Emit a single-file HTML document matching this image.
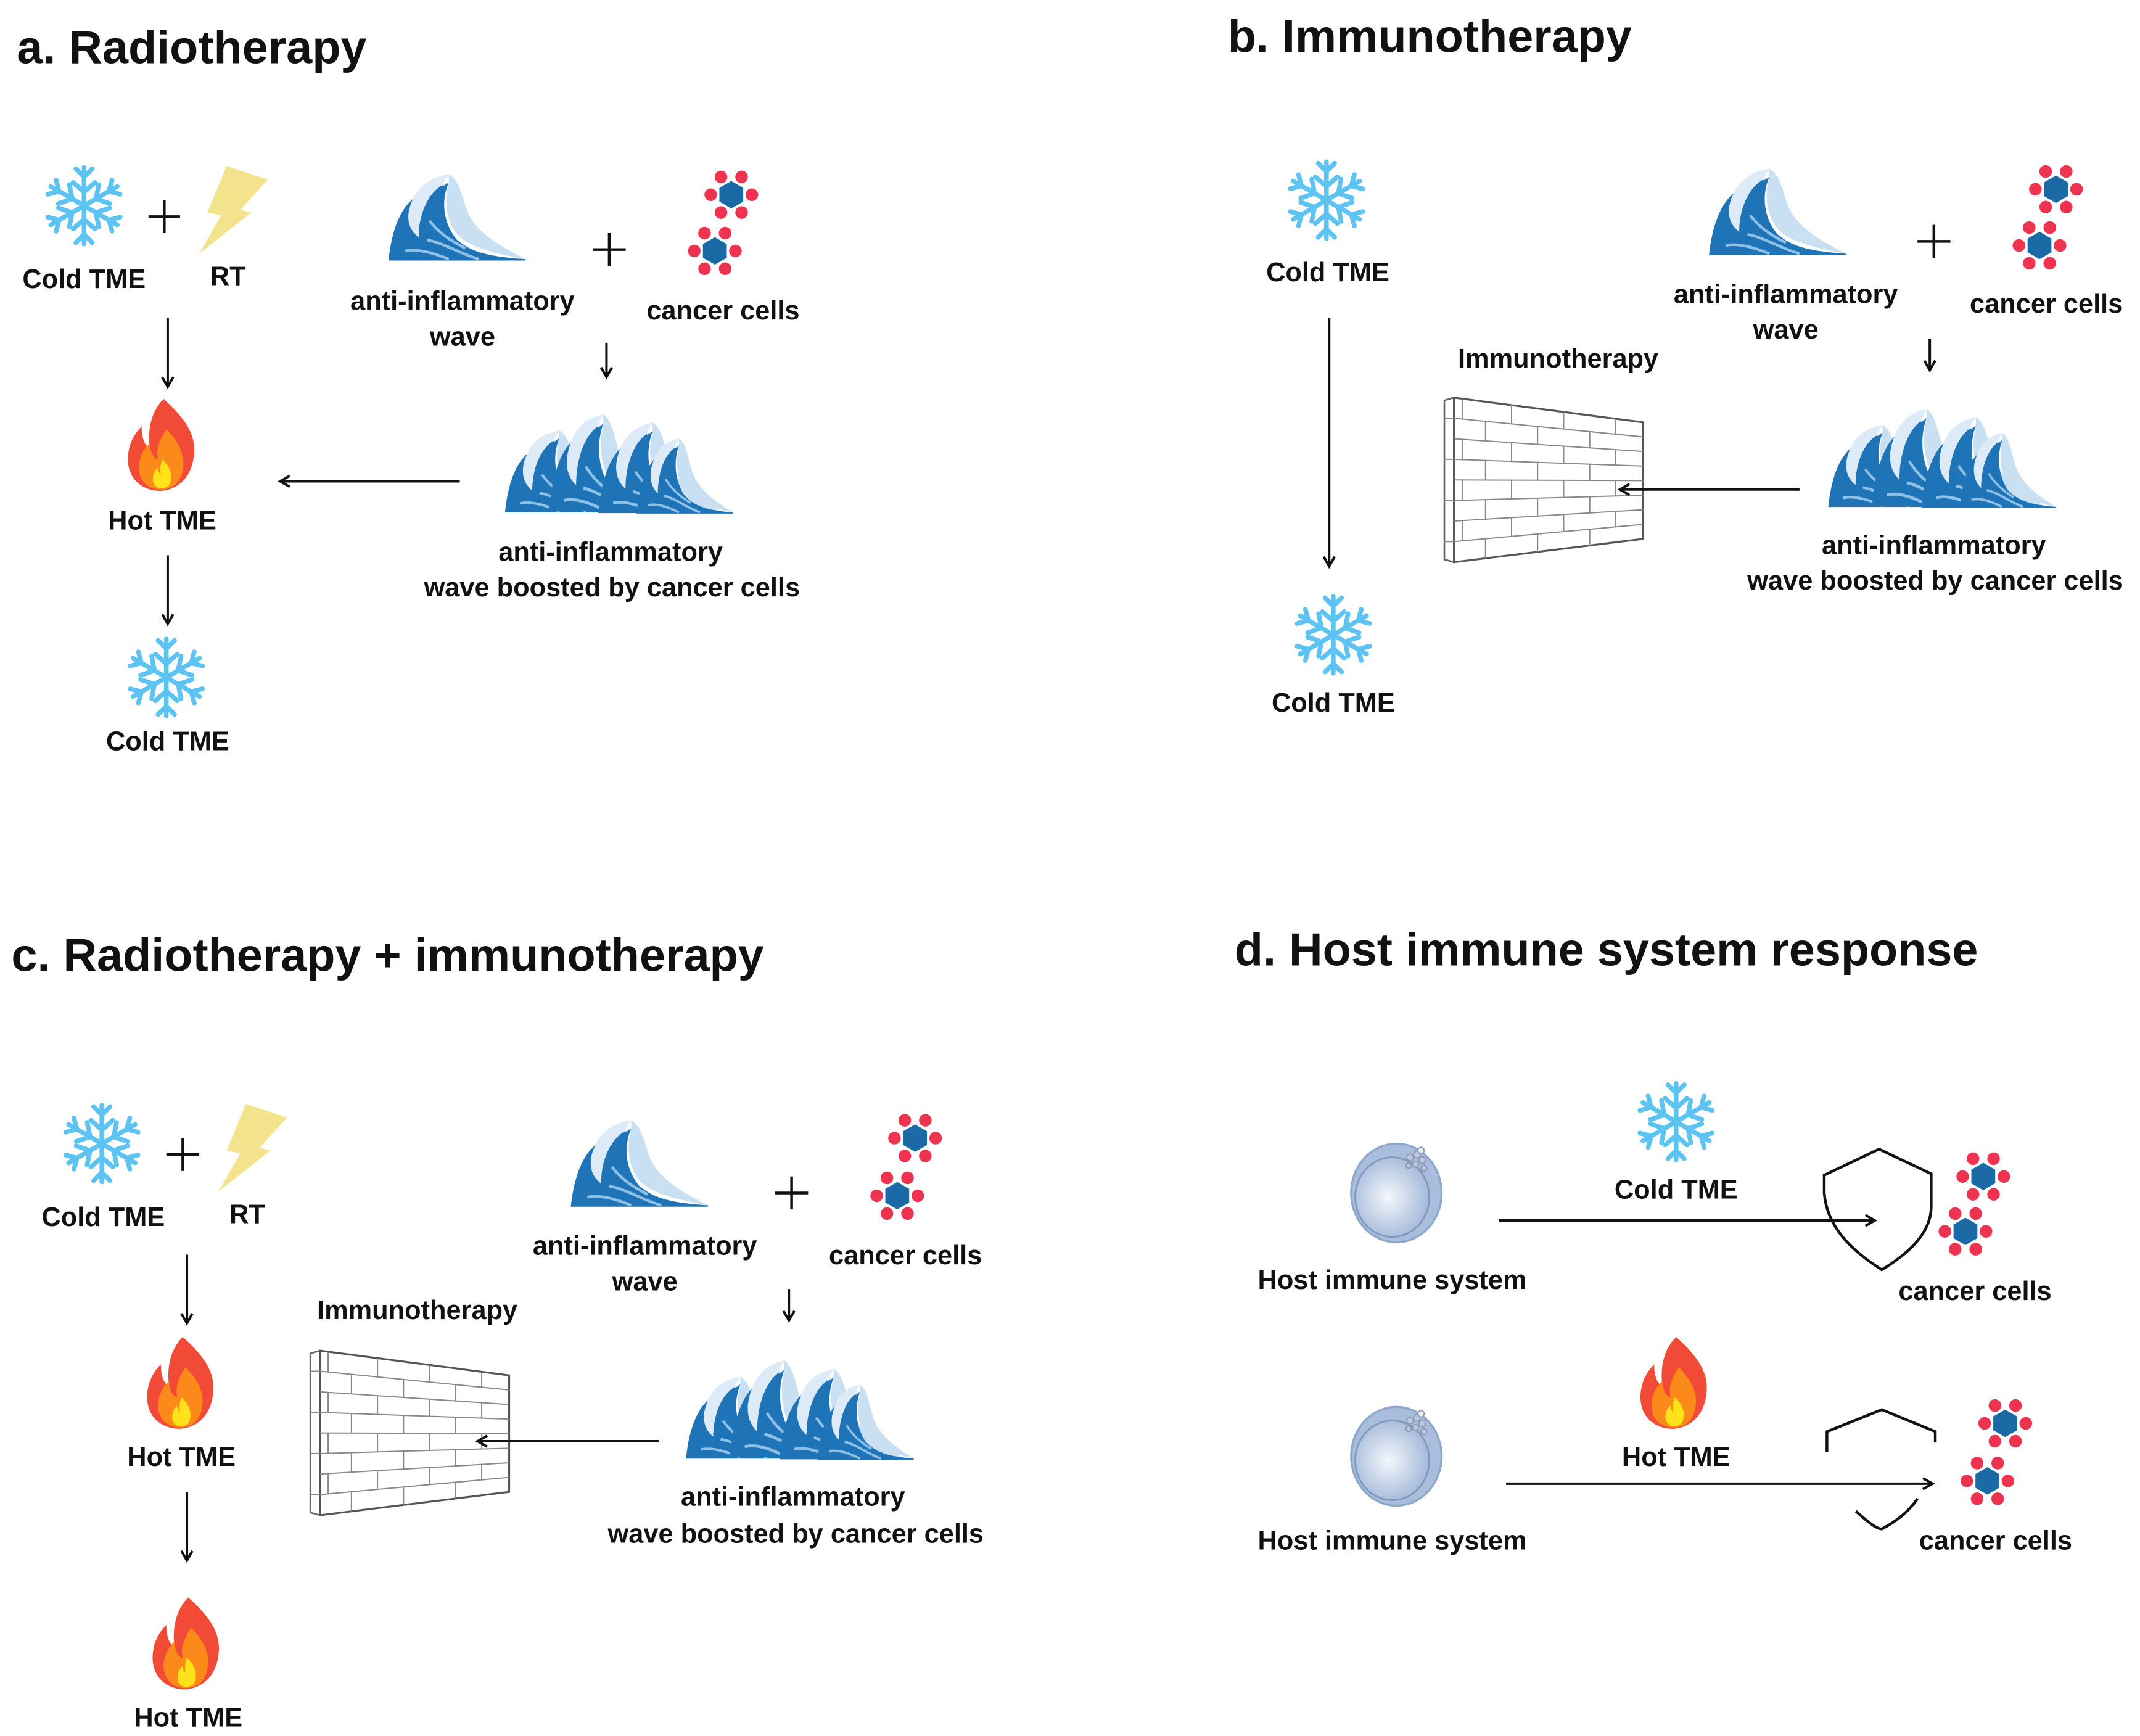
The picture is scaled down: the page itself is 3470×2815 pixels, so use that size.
<!DOCTYPE html>
<html><head><meta charset="utf-8">
<style>
html,body{margin:0;padding:0;background:#fff;}
svg{display:block;}
text{font-family:"Liberation Sans",sans-serif;font-weight:bold;fill:#111;}
.t{font-size:34px;}
.l{font-size:19.5px;text-anchor:middle;}
</style></head>
<body>
<svg width="3470" height="2815" viewBox="0 0 1560 1266" xmlns="http://www.w3.org/2000/svg">
<defs>
  <marker id="ah" markerWidth="10" markerHeight="10" refX="8" refY="5" orient="auto" markerUnits="userSpaceOnUse">
    <path d="M1,1 L8,5 L1,9" fill="none" stroke="#111" stroke-width="1.8"/>
  </marker>
  <g id="snow" stroke="#5cc3f2" stroke-width="3.4" stroke-linecap="round" fill="none">
    <g id="arm"><line x1="0" y1="0" x2="0" y2="-28"/><polyline points="-6,-27 0,-21 6,-27"/><polyline points="-8,-17 0,-10 8,-17"/></g>
    <use href="#arm" transform="rotate(60)"/><use href="#arm" transform="rotate(120)"/>
    <use href="#arm" transform="rotate(180)"/><use href="#arm" transform="rotate(240)"/><use href="#arm" transform="rotate(300)"/>
  </g>
  <g id="cell">
    <g fill="#ee3350">
      <circle cx="0" cy="-15" r="4.6" transform="rotate(30)"/><circle cx="0" cy="-15" r="4.6" transform="rotate(90)"/>
      <circle cx="0" cy="-15" r="4.6" transform="rotate(150)"/><circle cx="0" cy="-15" r="4.6" transform="rotate(210)"/>
      <circle cx="0" cy="-15" r="4.6" transform="rotate(270)"/><circle cx="0" cy="-15" r="4.6" transform="rotate(330)"/>
    </g>
    <polygon points="0,-10 8.7,-5 8.7,5 0,10 -8.7,5 -8.7,-5" fill="#1b6aa5"/>
    <circle r="8.5" fill="#1b6aa5"/>
  </g>
  <g id="bolt"><polygon points="20,-32 50,-22 30,0 38,2 0,32 16,4 6,2" fill="#f3e38c" transform="translate(-25,0)"/></g>
  <g id="flame">
    <path d="M2,-34 C20,-18 26,-6 24,8 C22,24 12,32 0,33 C-14,33 -24,24 -24,10 C-24,0 -20,-8 -14,-14 C-14,-6 -12,0 -8,2 C-10,-14 -6,-26 2,-34 Z" fill="#f14a36"/>
    <path d="M4,-12 C14,-2 18,8 16,18 C14,28 8,32 0,32 C-10,32 -16,25 -16,16 C-16,8 -12,2 -8,-2 C-8,6 -4,10 -2,10 C-4,2 0,-6 4,-12 Z" fill="#fb8a1b"/>
    <path d="M1,10 C8,16 9,24 6,29 C3,32 -3,32 -5,28 C-7,24 -5,18 -2,16 C-2,20 0,21 0,21 C-1,17 0,13 1,10 Z" fill="#ffe21a"/>
  </g>
  <g id="wave">
    <path d="M0,65 C2,45 8,28 18,20 C12,32 14,42 22,48 C22,30 30,12 44,8 C38,22 40,38 50,50 C60,58 70,62 100,64 L100,65 Z" fill="#1f74b8"/>
    <path d="M18,20 C22,10 32,4 44,2 C40,8 36,14 44,8 C30,12 22,30 22,48 C14,42 12,32 18,20 Z" fill="#dcebf7"/>
    <path d="M44,2 C52,6 54,20 58,30 C64,44 80,54 100,64 C78,60 62,56 52,48 C42,38 40,22 44,8 Z" fill="#c9e0f3"/>
    <path d="M28,50 C40,52 52,60 66,64 M12,58 C22,56 34,60 44,64 M30,36 C36,44 44,50 56,56" stroke="#8fc1e6" stroke-width="2" fill="none"/>
  </g>
  <g id="bigwave">
    <use href="#wave" transform="translate(0,12) scale(0.9,0.95)"/>
    <use href="#wave" transform="translate(32,0) scale(0.9,1.12)"/>
    <use href="#wave" transform="translate(68,6) scale(0.9,1.05)"/>
    <use href="#wave" transform="translate(96,18) scale(0.7,0.87)"/>
  </g>
  <g id="wall">
    <polygon points="0,2 7,0 7,120 0,118" fill="#fff" stroke="#666" stroke-width="1.2"/>
    <polygon points="7,0 145,18 145,103 7,120" fill="#fff" stroke="#555" stroke-width="1.4"/>
    <g id="bricks" stroke="#888" stroke-width="0.9" fill="none"></g>
  </g>
  <g id="immune">
    <radialGradient id="ig" cx="0.45" cy="0.5" r="0.6"><stop offset="0" stop-color="#f4f7fc"/><stop offset="1" stop-color="#9cb3d6"/></radialGradient>
    <ellipse rx="33" ry="36" fill="#a9bedd" stroke="#8ea6c9" stroke-width="1.5"/>
    <ellipse cx="-3" cy="3" rx="27" ry="29" fill="url(#ig)" stroke="#7f97bd" stroke-width="1.2"/>
    <g fill="#b9c7de" stroke="#8a96ad" stroke-width="0.8">
      <circle cx="10" cy="-26" r="2.5"/><circle cx="15" cy="-28" r="2.5"/><circle cx="19" cy="-24" r="2.5"/>
      <circle cx="14" cy="-21" r="2.2"/><circle cx="20" cy="-18" r="2.2"/><circle cx="9" cy="-20" r="2"/>
      <circle cx="18" cy="-31" r="2.3" fill="#eee"/>
    </g>
  </g>
</defs>

<!-- walls first -->
<use href="#wall" transform="translate(1053,290)"/>
<use href="#wall" transform="translate(226,985)"/>

<g fill="none" stroke="#111" stroke-width="1.8" marker-end="url(#ah)">
  <line x1="122" y1="232" x2="122" y2="282"/>
  <line x1="122" y1="405" x2="122" y2="455"/>
  <line x1="442" y1="250" x2="442" y2="275"/>
  <line x1="335" y1="351" x2="204" y2="351"/>
  <line x1="969" y1="232" x2="969" y2="413"/>
  <line x1="1407" y1="247" x2="1407" y2="270"/>
  <line x1="1312" y1="357" x2="1181" y2="357"/>
  <line x1="136" y1="915" x2="136" y2="965"/>
  <line x1="136" y1="1088" x2="136" y2="1138"/>
  <line x1="575" y1="940" x2="575" y2="963"/>
  <line x1="480" y1="1051" x2="348" y2="1051"/>
  <line x1="1093" y1="890" x2="1367" y2="890"/>
  <line x1="1098" y1="1082" x2="1409" y2="1082"/>
</g>

<g stroke="#111" stroke-width="2" fill="none">
  <path d="M108,158 H131 M119.5,146 V170"/>
  <path d="M432,182 H456 M444,170 V194"/>
  <path d="M1398,176 H1422 M1410,164 V188"/>
  <path d="M121,842 H145 M133,830 V854"/>
  <path d="M565,870 H589 M577,858 V882"/>
</g>

<text class="t" x="12" y="46">a. Radiotherapy</text>
<text class="t" x="895" y="38">b. Immunotherapy</text>
<text class="t" x="8" y="708">c. Radiotherapy + immunotherapy</text>
<text class="t" x="900" y="704">d. Host immune system response</text>

<use href="#snow" x="61" y="150"/>
<use href="#bolt" x="170" y="153"/>
<text class="l" x="61" y="210">Cold TME</text>
<text class="l" x="166" y="208">RT</text>
<use href="#wave" transform="translate(283,125)"/>
<text class="l" x="337" y="226">anti-inflammatory</text>
<text class="l" x="337" y="252">wave</text>
<use href="#cell" x="533" y="142"/>
<use href="#cell" x="521" y="183"/>
<text class="l" x="527" y="233">cancer cells</text>
<use href="#bigwave" transform="translate(368,300)"/>
<text class="l" x="445" y="409">anti-inflammatory</text>
<text class="l" x="446" y="435">wave boosted by cancer cells</text>
<use href="#flame" x="117" y="325"/>
<text class="l" x="118" y="386">Hot TME</text>
<use href="#snow" x="121" y="494"/>
<text class="l" x="122" y="547">Cold TME</text>

<use href="#snow" x="967" y="146"/>
<text class="l" x="968" y="205">Cold TME</text>
<use href="#snow" x="972" y="463"/>
<text class="l" x="972" y="519">Cold TME</text>
<use href="#wave" transform="translate(1246,121)"/>
<text class="l" x="1302" y="221">anti-inflammatory</text>
<text class="l" x="1302" y="247">wave</text>
<use href="#cell" x="1499" y="138"/>
<use href="#cell" x="1487" y="179"/>
<text class="l" x="1492" y="228">cancer cells</text>
<use href="#bigwave" transform="translate(1333,296)"/>
<text class="l" x="1410" y="404">anti-inflammatory</text>
<text class="l" x="1411" y="430">wave boosted by cancer cells</text>
<text class="l" x="1136" y="268">Immunotherapy</text>

<use href="#snow" x="74" y="834"/>
<use href="#bolt" x="184" y="837"/>
<text class="l" x="75" y="894">Cold TME</text>
<text class="l" x="180" y="892">RT</text>
<use href="#flame" x="131" y="1009"/>
<text class="l" x="132" y="1069">Hot TME</text>
<use href="#flame" x="135" y="1199"/>
<text class="l" x="137" y="1259">Hot TME</text>
<text class="l" x="304" y="962">Immunotherapy</text>
<use href="#wave" transform="translate(416,815)"/>
<text class="l" x="470" y="915">anti-inflammatory</text>
<text class="l" x="470" y="941">wave</text>
<use href="#cell" x="667" y="830"/>
<use href="#cell" x="654" y="872"/>
<text class="l" x="660" y="922">cancer cells</text>
<use href="#bigwave" transform="translate(500,990)"/>
<text class="l" x="578" y="1098">anti-inflammatory</text>
<text class="l" x="580" y="1125">wave boosted by cancer cells</text>

<use href="#immune" x="1018" y="870"/>
<text class="l" x="1015" y="940">Host immune system</text>
<use href="#snow" x="1222" y="818"/>
<text class="l" x="1222" y="874">Cold TME</text>
<path d="M1330,857 L1370,838 L1408,856 L1408,880 C1408,900 1390,915 1372,926 C1350,912 1332,895 1330,870 Z" fill="none" stroke="#111" stroke-width="2"/>
<use href="#cell" x="1446" y="858"/>
<use href="#cell" x="1433" y="898"/>
<text class="l" x="1440" y="948">cancer cells</text>

<use href="#immune" x="1018" y="1062"/>
<text class="l" x="1015" y="1130">Host immune system</text>
<use href="#flame" x="1220" y="1009"/>
<text class="l" x="1222" y="1069">Hot TME</text>
<polyline points="1332,1059 1332,1044 1372,1028 1411,1044 1411,1052" fill="none" stroke="#111" stroke-width="2"/>
<path d="M1353,1102 C1362,1110 1368,1115 1372,1115 C1382,1110 1392,1102 1398,1093" fill="none" stroke="#111" stroke-width="2"/>
<use href="#cell" x="1462" y="1038"/>
<use href="#cell" x="1449" y="1080"/>
<text class="l" x="1455" y="1130">cancer cells</text>
</svg>
<script>
(function(){
  var g=document.getElementById('bricks'),s='';
  function yl(t,x){var L=120*t,R=18+85*t;return L+(R-L)*(x-7)/138;}
  for(var i=1;i<8;i++){var t=i/8;s+='<line x1="7" y1="'+yl(t,7)+'" x2="145" y2="'+yl(t,145)+'"/>';}
  s+='<line x1="0" y1="15" x2="7" y2="15"/><line x1="0" y1="45" x2="7" y2="45"/><line x1="0" y1="75" x2="7" y2="75"/><line x1="0" y1="105" x2="7" y2="105"/>';
  for(var r=0;r<8;r++){var xs=(r%2)?[30,68,106]:[13,49,87,125];
    for(var k=0;k<xs.length;k++){var x=xs[k];s+='<line x1="'+x+'" y1="'+yl(r/8,x)+'" x2="'+x+'" y2="'+yl((r+1)/8,x)+'"/>';}}
  g.innerHTML=s;
})();
</script>
</body></html>
